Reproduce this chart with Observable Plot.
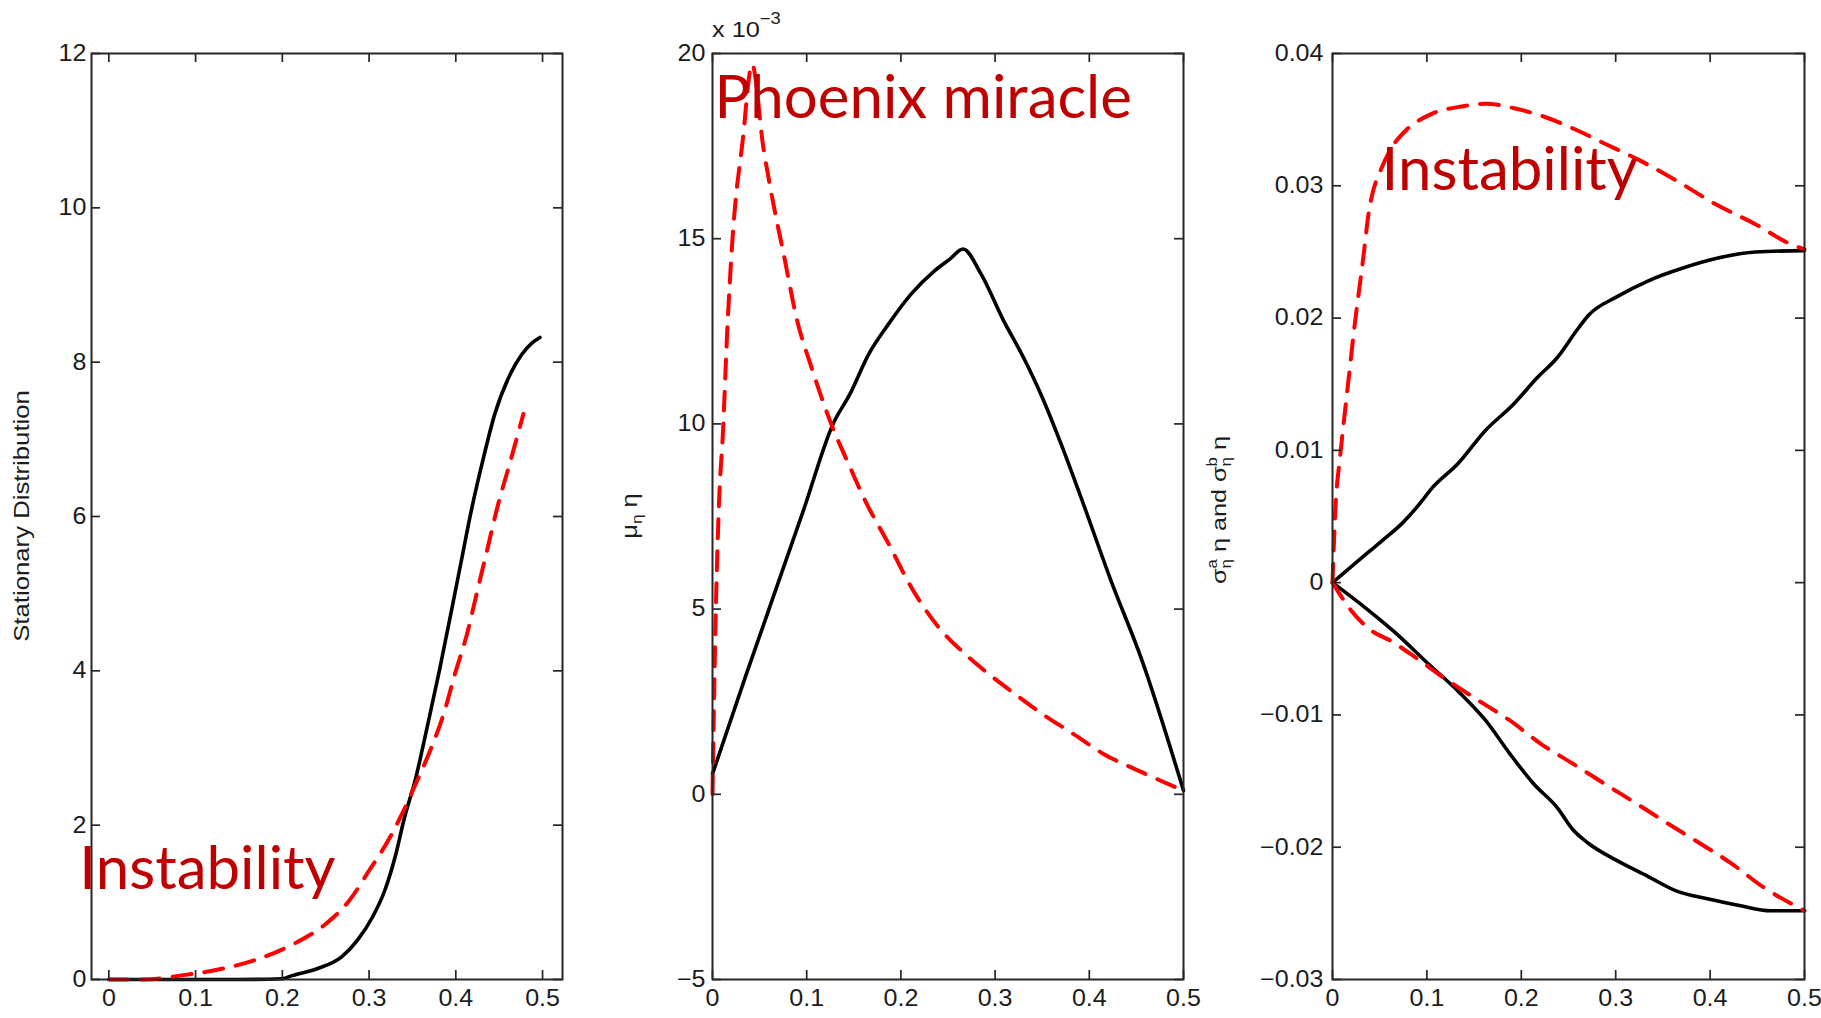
<!DOCTYPE html>
<html>
<head>
<meta charset="utf-8">
<script src="https://cdn.jsdelivr.net/npm/d3@7"></script>
<script src="https://cdn.jsdelivr.net/npm/@observablehq/plot@0.6"></script>
<style>
  html, body { margin: 0; padding: 0; background: #fff; }
  #wrap { position: relative; width: 1821px; height: 1018px; overflow: hidden; background: #fff; }
  .panel { position: absolute; top: 0; }
  .panel svg { max-width: none !important; display: block; }
</style>
</head>
<body>
<div id="wrap">
  <div class="panel" id="p1" style="left:0px;width:590px"></div>
  <div class="panel" id="p2" style="left:590px;width:600px"></div>
  <div class="panel" id="p3" style="left:1190px;width:631px"></div>
</div>
<script>
// ---------- tick values ----------
const xTicks = [0, 0.1, 0.2, 0.3, 0.4, 0.5];
const p1YTicks = [0, 2, 4, 6, 8, 10, 12];
const p2YTicks = [-5, 0, 5, 10, 15, 20];
const p3YTicks = [-0.03, -0.02, -0.01, 0, 0.01, 0.02, 0.03, 0.04];

// ---------- axis labels / annotations ----------
const p1YLabel = "Stationary Distribution";
const p2Exponent = ["x 10", "\u22123"];
const p1Notes = [{x: -0.034, y: 1.17, text: "Instability"}];
const p2Notes = [{x: 0.002, y: 18.25, text: "Phoenix miracle"}];
const p3Notes = [{x: 0.052, y: 0.0297, text: "Instability"}];

// ---------- panel 1: stationary distribution ----------
const p1BlackX = [0, 0.05, 0.1, 0.15, 0.2, 0.211, 0.24, 0.268, 0.286, 0.304, 0.318, 0.331, 0.34, 0.354, 0.367, 0.381, 0.395, 0.408, 0.417, 0.431, 0.445, 0.463, 0.476, 0.488, 0.497];
const p1BlackY = [0, 0, 0, 0, 0.01, 0.05, 0.14, 0.29, 0.5, 0.81, 1.15, 1.63, 2.06, 2.62, 3.27, 4.0, 4.78, 5.52, 6.03, 6.72, 7.33, 7.85, 8.1, 8.25, 8.32];
const p1RedX = [0, 0.04, 0.082, 0.122, 0.168, 0.213, 0.25, 0.277, 0.3, 0.322, 0.336, 0.354, 0.372, 0.386, 0.399, 0.413, 0.424, 0.436, 0.447, 0.463, 0.478];
const p1RedY = [0, 0, 0.05, 0.12, 0.25, 0.46, 0.72, 1.02, 1.41, 1.8, 2.1, 2.54, 3.01, 3.44, 3.96, 4.48, 5.0, 5.56, 6.08, 6.72, 7.33];

// ---------- panel 2: mu_eta * eta (x 10^-3) ----------
const p2BlackX = [0, 0.036, 0.097, 0.128, 0.146, 0.166, 0.187, 0.211, 0.236, 0.252, 0.266, 0.285, 0.309, 0.33, 0.35, 0.37, 0.39, 0.423, 0.456, 0.5];
const p2BlackY = [0.55, 3.25, 7.7, 10.0, 10.81, 11.89, 12.7, 13.51, 14.14, 14.45, 14.72, 14.05, 12.79, 11.8, 10.72, 9.46, 8.1, 5.77, 3.61, 0.1];
const p2RedX = [0, 0.003, 0.007, 0.011, 0.0155, 0.0216, 0.032, 0.042, 0.054, 0.062, 0.077, 0.089, 0.105, 0.126, 0.146, 0.162, 0.187, 0.211, 0.24, 0.268, 0.293, 0.321, 0.35, 0.383, 0.415, 0.452, 0.5];
const p2RedY = [0, 4.34, 7.93, 9.73, 12.43, 15.13, 17.64, 19.71, 17.46, 16.29, 14.4, 12.88, 11.53, 10.0, 8.83, 7.93, 6.76, 5.59, 4.51, 3.79, 3.25, 2.71, 2.17, 1.63, 1.09, 0.64, 0.1];

// ---------- panel 3: sigma^a and sigma^b ----------
const p3BlackUpX = [0, 0.028, 0.053, 0.074, 0.095, 0.1036, 0.133, 0.162, 0.192, 0.217, 0.238, 0.259, 0.271, 0.301, 0.334, 0.372, 0.406, 0.448, 0.5];
const p3BlackUpY = [0, 0.0017, 0.0032, 0.0045, 0.0062, 0.007, 0.009, 0.0115, 0.0135, 0.0155, 0.017, 0.0191, 0.0202, 0.0216, 0.0228, 0.0238, 0.0245, 0.025, 0.0251];
const p3BlackLowX = [0, 0.0365, 0.07, 0.0994, 0.133, 0.162, 0.1875, 0.213, 0.238, 0.255, 0.271, 0.301, 0.334, 0.364, 0.397, 0.431, 0.464, 0.5];
const p3BlackLowY = [0, -0.002, -0.004, -0.006, -0.0082, -0.0104, -0.0129, -0.0152, -0.017, -0.0187, -0.0197, -0.021, -0.0222, -0.0233, -0.0239, -0.0244, -0.0248, -0.0248];
const p3RedUpX = [0, 0.003, 0.008, 0.013, 0.018, 0.023, 0.028, 0.033, 0.038, 0.043, 0.05, 0.062, 0.078, 0.104, 0.137, 0.162, 0.196, 0.225, 0.259, 0.288, 0.326, 0.364, 0.406, 0.448, 0.485, 0.5];
const p3RedUpY = [0, 0.0055, 0.0095, 0.0128, 0.016, 0.0192, 0.022, 0.0248, 0.0278, 0.0296, 0.031, 0.0328, 0.0342, 0.0354, 0.036, 0.0362, 0.0358, 0.0352, 0.0342, 0.0332, 0.0319, 0.0304, 0.0286, 0.0271, 0.0256, 0.0252];
const p3RedLowX = [0, 0.0197, 0.0407, 0.0617, 0.0868, 0.116, 0.15, 0.1875, 0.221, 0.255, 0.288, 0.322, 0.355, 0.389, 0.422, 0.456, 0.5];
const p3RedLowY = [0, -0.0021, -0.0036, -0.0044, -0.0056, -0.0071, -0.0087, -0.0104, -0.0122, -0.0137, -0.0152, -0.0167, -0.0182, -0.0197, -0.0212, -0.023, -0.0248];

// ---------- helpers ----------
const zip = (xs, ys) => xs.map((x, i) => ({x, y: ys[i]}));
const fmt = d => String(+(+d).toFixed(3)).replace("-", "\u2212");
const H = 1018, MT = 53, MB = 39, TICK = 9;
const AXIS = "#262626";
const LABEL = "#1c1c1c";

function panel({width, ml, mr, xDomain, yDomain, yTicks, yPad, blacks, reds, notes}) {
  const pw = width - ml - mr, ph = H - MT - MB;
  const svg = Plot.plot({
    width, height: H,
    marginLeft: ml, marginRight: mr, marginTop: MT, marginBottom: MB,
    x: {domain: xDomain, label: null},
    y: {domain: yDomain, label: null},
    style: {fontFamily: "'Liberation Sans', Arial, sans-serif", background: "none", overflow: "visible"},
    marks: [
      ...blacks.map(d => Plot.line(d, {x: "x", y: "y", stroke: "#000", strokeWidth: 3.6, curve: "monotone-x"})),
      ...reds.map(d => Plot.line(d, {x: "x", y: "y", stroke: "#ff0000", strokeWidth: 4, strokeDasharray: "19,13", curve: "monotone-x"})),
      Plot.tickX(xTicks, {x: d => d, insetTop: ph - TICK, stroke: AXIS, strokeWidth: 1.7}),
      Plot.tickX(xTicks, {x: d => d, insetBottom: ph - TICK, stroke: AXIS, strokeWidth: 1.7}),
      Plot.tickY(yTicks, {y: d => d, insetRight: pw - TICK, stroke: AXIS, strokeWidth: 1.7}),
      Plot.tickY(yTicks, {y: d => d, insetLeft: pw - TICK, stroke: AXIS, strokeWidth: 1.7}),
      Plot.frame({stroke: AXIS, strokeWidth: 2}),
      Plot.axisX(xTicks, {tickSize: 0, tickPadding: 10, tickFormat: fmt, fontSize: 23, fill: LABEL, label: null}),
      Plot.axisY(yTicks, {tickSize: 0, tickPadding: yPad, tickFormat: fmt, fontSize: 23, fill: LABEL, label: null}),
      Plot.text(notes, {x: "x", y: "y", text: "text", textAnchor: "start", lineAnchor: "bottom",
        fill: "#c00000", fontSize: 60, fontFamily: "Lato, 'Open Sans', sans-serif"})
    ]
  });
  // MATLAB-style wide tick labels: stretch horizontally about each label's anchor
  d3.select(svg).selectAll('g[aria-label$="tick label"] text').each(function () {
    const t = this.getAttribute("transform") || "";
    this.setAttribute("transform", t + " scale(1.09,1)");
  });
  return svg;
}

// ---------- panel 1 ----------
const svg1 = panel({
  width: 590, ml: 91, mr: 28, xDomain: [-0.02, 0.523], yDomain: [0, 12], yTicks: p1YTicks, yPad: 5,
  blacks: [zip(p1BlackX, p1BlackY)], reds: [zip(p1RedX, p1RedY)], notes: p1Notes
});
document.getElementById("p1").appendChild(svg1);
d3.select(svg1).append("text")
  .attr("transform", "translate(29,516) rotate(-90) scale(1.17,1)")
  .attr("text-anchor", "middle").attr("font-size", 22).attr("fill", LABEL)
  .text(p1YLabel);

// ---------- panel 2 ----------
const svg2 = panel({
  width: 600, ml: 122, mr: 7, xDomain: [0, 0.5], yDomain: [-5, 20], yTicks: p2YTicks, yPad: 7,
  blacks: [zip(p2BlackX, p2BlackY)], reds: [zip(p2RedX, p2RedY)], notes: p2Notes
});
document.getElementById("p2").appendChild(svg2);
{
  const t = d3.select(svg2).append("text")
    .attr("transform", "translate(47,516) rotate(-90) scale(1.15,1)")
    .attr("text-anchor", "middle").attr("font-size", 22).attr("fill", LABEL);
  t.append("tspan").text("\u03bc");
  t.append("tspan").attr("font-size", 15).attr("dy", 5).text("\u03b7");
  t.append("tspan").attr("dy", -5).text(" \u03b7");
  const e = d3.select(svg2).append("text")
    .attr("transform", "translate(122,36.5) scale(1.15,1)")
    .attr("text-anchor", "start")
    .attr("font-size", 22).attr("fill", LABEL);
  e.append("tspan").text(p2Exponent[0]);
  e.append("tspan").attr("font-size", 16).attr("dy", -13).text(p2Exponent[1]);
}

// ---------- panel 3 ----------
const svg3 = panel({
  width: 631, ml: 142, mr: 17, xDomain: [0, 0.5], yDomain: [-0.03, 0.04], yTicks: p3YTicks, yPad: 9,
  blacks: [zip(p3BlackUpX, p3BlackUpY), zip(p3BlackLowX, p3BlackLowY)],
  reds: [zip(p3RedUpX, p3RedUpY), zip(p3RedLowX, p3RedLowY)], notes: p3Notes
});
document.getElementById("p3").appendChild(svg3);
{
  const t = d3.select(svg3).append("text")
    .attr("transform", "translate(36,510) rotate(-90) scale(1.2,1)")
    .attr("text-anchor", "middle").attr("font-size", 21).attr("fill", LABEL);
  const sigma = (sup) => {
    t.append("tspan").text("\u03c3");
    t.append("tspan").attr("font-size", 14).attr("dy", -9).text(sup);
    t.append("tspan").attr("font-size", 14).attr("dx", -7.8).attr("dy", 14).text("\u03b7");
    t.append("tspan").attr("dy", -5).text(" \u03b7");
  };
  sigma("a");
  t.append("tspan").text(" and ");
  sigma("b");
}
</script>
</body>
</html>
